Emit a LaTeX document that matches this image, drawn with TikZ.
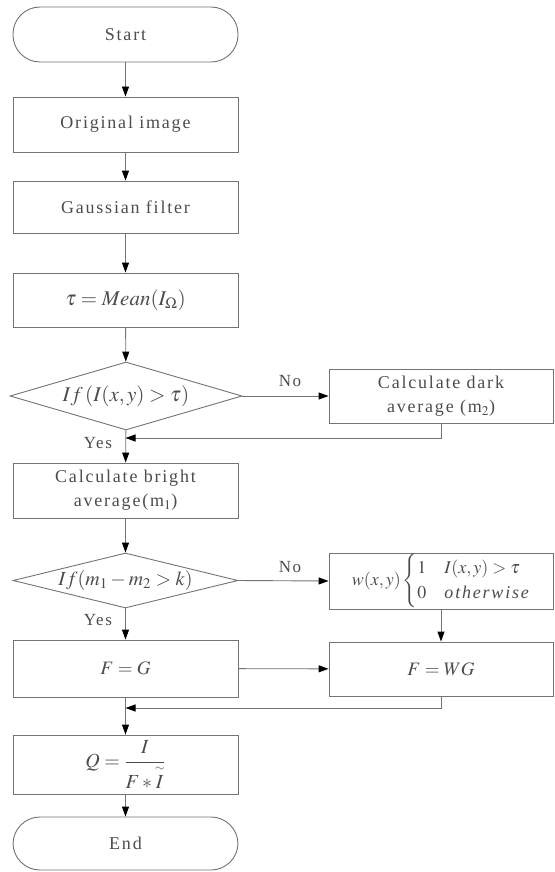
\documentclass[tikz,border=0pt]{standalone}
\usepackage{amsmath}
\usepackage{mathptmx}
\usepackage{fontspec}
\setmainfont[LetterSpace=10]{Liberation Serif}
\usetikzlibrary{shapes.geometric,arrows.meta}
\definecolor{linec}{gray}{0.45}
\definecolor{txt}{gray}{0.3}
\tikzset{
  base/.style={draw=linec, line width=0.9pt, inner sep=0pt, text=txt,
    font=\fontsize{18}{24}\selectfont, align=center},
  box/.style={base, rectangle, minimum width=225pt, minimum height=55pt},
  term/.style={box, rounded corners=27pt},
  dec/.style={base, diamond, aspect=3.4},
  mathbig/.style={font=\fontsize{21}{25}\selectfont},
  arr/.style={draw=linec, line width=0.9pt, -{Triangle[length=10pt,width=7pt,color=black]}},
  lab/.style={text=txt, font=\fontsize{17}{20}\selectfont, inner sep=0pt}
}
\begin{document}
\begin{tikzpicture}[x=1pt,y=-1pt]
\useasboundingbox (0,0) rectangle (554,872);
% main column
\node[term] (start) at (125.5,34.5) {Start};
\node[box] (orig) at (125.5,124.5) {Original image};
\node[box, minimum height=52pt] (gauss) at (125.5,207) {Gaussian filter};
\node[box, mathbig, minimum height=54pt] (tau) at (125.5,300) {$\tau = Mean(I_{\Omega})$};
\node[dec, mathbig, minimum width=232pt, minimum height=68pt] (d1) at (126,396) {$If\,(I(x,y) > \tau)$};
\node[box, minimum width=224pt, minimum height=54pt] (dark) at (441,396) {Calculate dark\\average (m$_2$)};
\node[box] (bright) at (125.5,490.5) {Calculate bright\\average(m$_1$)};
\node[dec, font=\fontsize{20}{24}\selectfont, minimum width=225pt, minimum height=55pt, aspect=4.1] (d2) at (125.5,580.5) {$If(m_1 - m_2 > k)$};
\node[box, minimum width=224pt, minimum height=56pt, font=\fontsize{18}{21}\selectfont] (w) at (441,581)
  {$w(x,y)\renewcommand{\arraystretch}{1.2}\begin{cases}1 & I(x,y) > \tau\\ 0 & \textit{otherwise}\end{cases}$};
\node[box, minimum height=57pt, font=\fontsize{19}{23}\selectfont] (fg) at (125.5,668.5) {$F = G$};
\node[box, minimum width=224pt, minimum height=54pt, font=\fontsize{19}{23}\selectfont] (fwg) at (441,669) {$F = WG$};
\node[box, minimum height=59pt, font=\fontsize{20}{24}\selectfont] (q) at (125.5,764.5)
  {$Q = \dfrac{I\rule[-5pt]{0pt}{5pt}}{\rule{0pt}{20pt}F * \overset{\scriptscriptstyle\sim}{I}}$};
\node[term, minimum height=53pt] (end) at (125.5,843.5) {End};
% helper coordinates
\coordinate (r1) at (441,438);
\coordinate (j1) at (125.5,438);
\coordinate (r2) at (441,708);
\coordinate (j2) at (125.5,708);
% connectors
\draw[arr] (start) -- (orig);
\draw[arr] (orig) -- (gauss);
\draw[arr] (gauss) -- (tau);
\draw[arr] (tau) -- (d1);
\draw[arr] (d1) -- (bright);
\draw[arr] (d1.east) -- (dark.west);
\draw[arr] (dark.south) -- (r1) -- (j1);
\draw[arr] (bright) -- (d2);
\draw[arr] (d2.east) -- (w.west);
\draw[arr] (d2) -- (fg);
\draw[arr] (w) -- (fwg);
\draw[arr] (fg) -- (fwg);
\draw[arr] (fwg.south) -- (r2) -- (j2);
\draw[arr] (fg) -- (q);
\draw[arr] (q) -- (end);
% labels
\node[lab] (yes1) at (98,443) {Yes};
\node[lab] (no1) at (290,381) {No};
\node[lab] (yes2) at (98,620) {Yes};
\node[lab] (no2) at (290,567) {No};
\end{tikzpicture}
\end{document}
